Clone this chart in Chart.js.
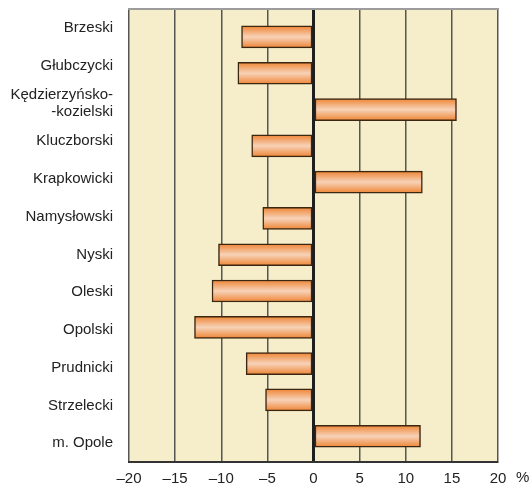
<!DOCTYPE html>
<html>
<head>
<meta charset="utf-8">
<script src="https://cdn.jsdelivr.net/npm/chart.js@4/dist/chart.umd.min.js"></script>
<style>
  html, body { margin: 0; padding: 0; background: #fff; }
  #wrap { width: 532px; height: 490px; }
</style>
</head>
<body>
<div id="wrap"><canvas id="wykres" width="532" height="490"></canvas></div>
<script>
// powiaty (kolejnosc z wykresu, od gory)
const powiaty = ['Brzeski', 'Głubczycki', ['Kędzierzyńsko-', '-kozielski'], 'Kluczborski', 'Krapkowicki',
  'Namysłowski', 'Nyski', 'Oleski', 'Opolski', 'Prudnicki', 'Strzelecki', 'm. Opole'];
// zmiana w %
const zmiana = [-7.8, -8.2, 15.5, -6.7, 11.8, -5.5, -10.3, -11.0, -12.9, -7.3, -5.2, 11.6];
const osX = [-20, -15, -10, -5, 0, 5, 10, 15, 20];

const FONT = { family: "'Liberation Sans', Arial, sans-serif", size: 15 };

// tlo, gorna ramka, znak % i gradient slupkow
const ramka = {
  id: 'ramka',
  beforeDraw(chart) {
    const {ctx, chartArea: a} = chart;
    ctx.save();
    ctx.fillStyle = '#f6eeca';
    ctx.fillRect(a.left, a.top, a.right - a.left, a.bottom - a.top);
    ctx.restore();
  },
  beforeDatasetsDraw(chart) {
    const ctx = chart.ctx;
    chart.getDatasetMeta(0).data.forEach(bar => {
      const h = bar.height / 2;
      const g = ctx.createLinearGradient(0, bar.y - h, 0, bar.y + h);
      g.addColorStop(0, '#ee8433');
      g.addColorStop(0.5, '#f7d2b8');
      g.addColorStop(1, '#ee8433');
      bar.options.backgroundColor = g;
    });
  },
  afterDraw(chart) {
    const {ctx, chartArea: a, scales} = chart;
    ctx.save();
    ctx.strokeStyle = '#9c9c9c';
    ctx.lineWidth = 2;
    ctx.beginPath();
    ctx.moveTo(a.left - 1, a.top);
    ctx.lineTo(a.right + 1, a.top);
    ctx.stroke();
    ctx.fillStyle = '#222';
    ctx.font = FONT.size + 'px ' + FONT.family;
    ctx.textBaseline = 'middle';
    ctx.fillText('%', scales.x.right + 18, a.bottom + 16);
    ctx.restore();
  }
};

new Chart(document.getElementById('wykres'), {
  type: 'bar',
  data: {
    labels: powiaty,
    datasets: [{
      data: zmiana.map((v, i) => ({x: v, y: i})),
      yAxisID: 'yb',
      barThickness: 22,
      backgroundColor: () => '#ee8433',
      borderColor: '#3b2612',
      borderWidth: 1.5,
      borderSkipped: false
    }]
  },
  options: {
    indexAxis: 'y',
    responsive: false,
    animation: false,
    layout: { padding: { top: 9, right: 34, left: 0, bottom: 0 } },
    plugins: { legend: { display: false }, tooltip: { enabled: false } },
    scales: {
      x: {
        type: 'linear',
        min: -20, max: 20,
        afterBuildTicks: s => { s.ticks = osX.map(v => ({value: v})); },
        afterFit: s => { s.height = 28; },
        grid: {
          color: c => c.tick && c.tick.value === 0 ? '#1e1e1e' : '#555',
          lineWidth: c => c.tick && c.tick.value === 0 ? 3 : 1.5,
          drawTicks: false
        },
        border: { display: true, color: '#333', width: 2 },
        ticks: {
          font: FONT, color: '#222', padding: 8,
          callback: v => v < 0 ? '\u2013' + Math.abs(v) : String(v)
        }
      },
      y: {
        type: 'category',
        offset: true,
        position: 'left',
        afterFit: s => { s.width = 129; s.paddingTop = 0; s.paddingBottom = 0; },
        grid: { display: false, drawTicks: false },
        border: { display: false },
        ticks: { font: Object.assign({ lineHeight: 1.1 }, FONT), color: '#222', padding: 16, autoSkip: false }
      },
      yb: {
        type: 'linear',
        display: false,
        offset: false,
        reverse: true,
        min: -0.77, max: 11.71
      }
    }
  },
  plugins: [ramka]
});
</script>
</body>
</html>
